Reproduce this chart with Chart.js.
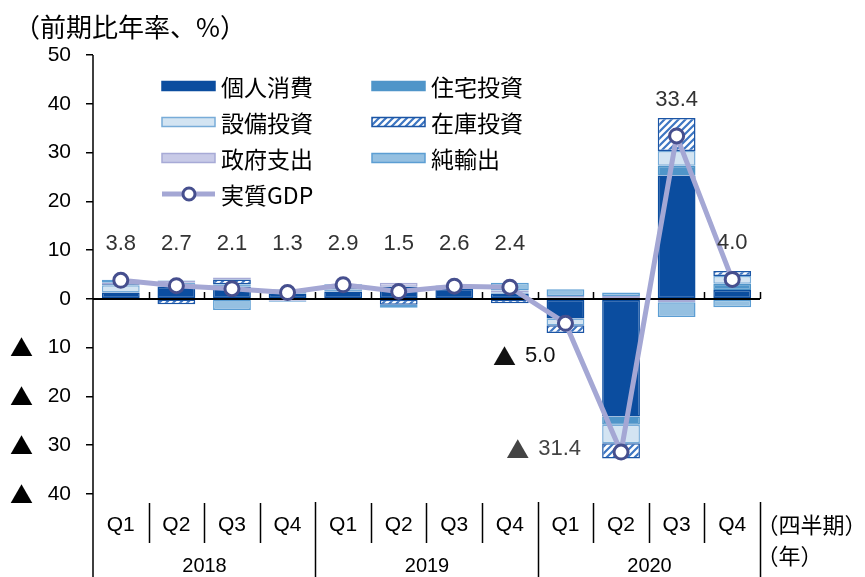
<!DOCTYPE html>
<html lang="ja">
<head>
<meta charset="UTF-8">
<title>実質GDP成長率の寄与度</title>
<style>
  html, body { margin: 0; padding: 0; background: #fff; }
  canvas { display: block; }
</style>
<script src="https://cdn.jsdelivr.net/npm/chart.js"></script>
</head>
<body>
<canvas id="gdpChart" width="865" height="577"></canvas>
<script>
// 四半期・年
const quarters = ['Q1', 'Q2', 'Q3', 'Q4', 'Q1', 'Q2', 'Q3', 'Q4', 'Q1', 'Q2', 'Q3', 'Q4'];
const years = ['2018', '2019', '2020'];

// 寄与度（前期比年率、%ポイント）
const consumption = [1.3, 2.5, 2.5, 1.1, 1.5, 2.5, 2.1, 1.1, -4.0, -24.1, 25.3, 1.8];
const housing     = [-0.1, -0.1, -0.1, -0.2, -0.1, -0.1, 0.2, 0.2, 0.3, -1.7, 2.0, 1.3];
const equipment   = [1.5, 0.8, 0.5, 0.6, 0.4, -0.1, -0.1, -0.1, -1.4, -3.8, 3.0, 1.6];
const inventory   = [0.2, -1.0, 1.0, 0.2, 0.3, -1.0, -0.1, -0.8, -1.6, -3.1, 6.8, 1.0];
const government  = [0.3, 0.4, 0.4, -0.2, 0.3, 0.8, 0.4, 0.4, 0.3, 0.6, -0.7, -0.2];
const netExports  = [0.6, 0.1, -2.2, -0.2, 0.5, -0.6, 0.1, 1.6, 1.4, 0.7, -3.0, -1.5];
const realGdp     = [3.8, 2.7, 2.1, 1.3, 2.9, 1.5, 2.6, 2.4, -5.0, -31.4, 33.4, 4.0];

const NUM = "'Liberation Sans', Arial, 'Noto Sans CJK JP', sans-serif";
const JP = "'Noto Sans CJK JP', sans-serif";

// 在庫投資のハッチング
function makeHatch() {
    const c = document.createElement('canvas');
    c.width = 7; c.height = 7;
    const g = c.getContext('2d');
    g.fillStyle = '#fff';
    g.fillRect(0, 0, 7, 7);
    g.strokeStyle = '#3d76c2';
    g.lineWidth = 2.2;
    g.beginPath();
    g.moveTo(-1, 8); g.lineTo(8, -1);
    g.moveTo(-1, 1); g.lineTo(1, -1);
    g.moveTo(6, 8); g.lineTo(8, 6);
    g.stroke();
    return g.createPattern(c, 'repeat');
}
const hatch = makeHatch();

function barSet(label, data, bg, border) {
    return {
        type: 'bar', label, data,
        backgroundColor: bg, borderColor: border, borderWidth: 1.5,
        borderSkipped: false, stack: 'comp', order: 1,
        barPercentage: 0.68, categoryPercentage: 1.0
    };
}

// マイナス記号（▲）付きの数値を右揃えで描く
function drawMinusText(ctx, num, right, y, color) {
    ctx.fillStyle = color;
    ctx.textAlign = 'right';
    ctx.font = '22px ' + NUM;
    ctx.fillText(num, right, y);
    const w = ctx.measureText(num).width;
    ctx.font = '23px ' + JP;
    ctx.fillText('▲', right - w - 9, y);
}

const boxLegendAndTable = {
    id: 'boxLegendAndTable',
    beforeDatasetDraw(chart, args) {
        if (args.meta.type !== 'line') return;
        const ctx = chart.ctx, area = chart.chartArea;
        const xs = chart.scales.x, ys = chart.scales.y;
        const y0 = ys.getPixelForValue(0);
        const half = (xs.getPixelForValue(1) - xs.getPixelForValue(0)) / 2;
        ctx.save();
        ctx.strokeStyle = '#000';
        ctx.lineWidth = 2;
        ctx.beginPath();
        ctx.moveTo(area.left, y0); ctx.lineTo(area.right, y0);
        ctx.stroke();
        ctx.lineWidth = 1.5;
        ctx.beginPath();
        for (let i = 1; i <= quarters.length; i++) {
            const bx = Math.round(xs.getPixelForValue(i) - half) + 0.5;
            ctx.moveTo(bx, y0); ctx.lineTo(bx, y0 - 7);
        }
        ctx.stroke();
        ctx.restore();
    },
    afterDatasetsDraw(chart) {
        const ctx = chart.ctx, area = chart.chartArea;
        const ys = chart.scales.y;
        // GDP labels
        const meta = chart.getDatasetMeta(chart.data.datasets.length - 1);
        ctx.save();
        ctx.textBaseline = 'middle';
        meta.data.forEach((pt, i) => {
            const v = realGdp[i];
            if (v >= 0) {
                ctx.fillStyle = '#333';
                ctx.font = '22px ' + NUM;
                ctx.textAlign = 'center';
                ctx.fillText(v.toFixed(1), pt.x, ys.getPixelForValue(Math.max(v, 3.8)) - 36);
            } else if (v > -10) {
                drawMinusText(ctx, Math.abs(v).toFixed(1), pt.x - 10, pt.y + 33, '#111');
            } else {
                drawMinusText(ctx, Math.abs(v).toFixed(1), pt.x - 40, pt.y - 3, '#444');
            }
        });
        ctx.restore();

        // legend
        ctx.save();
        ctx.font = '23px ' + JP;
        ctx.textBaseline = 'middle';
        ctx.textAlign = 'left';
        chart.data.datasets.forEach((ds, i) => {
            const col = i % 2, row = Math.floor(i / 2);
            const sx = area.left + 69 + col * 210;
            const sy = area.top + 31 + row * 36;
            if (ds.type === 'line') {
                ctx.strokeStyle = ds.borderColor;
                ctx.lineWidth = 5;
                ctx.beginPath();
                ctx.moveTo(sx, sy); ctx.lineTo(sx + 53, sy);
                ctx.stroke();
                ctx.fillStyle = '#fff';
                ctx.strokeStyle = ds.pointBorderColor;
                ctx.lineWidth = 3;
                ctx.beginPath();
                ctx.arc(sx + 27, sy, 6, 0, Math.PI * 2);
                ctx.fill(); ctx.stroke();
            } else {
                ctx.fillStyle = ds.backgroundColor;
                ctx.fillRect(sx, sy - 4.5, 53, 9);
                ctx.strokeStyle = ds.borderColor;
                ctx.lineWidth = 1.5;
                ctx.strokeRect(sx, sy - 4.5, 53, 9);
            }
            ctx.fillStyle = '#000';
            ctx.fillText(ds.label, sx + 59, sy + 1);
        });
        ctx.restore();
    },
    afterDraw(chart) {
        const ctx = chart.ctx, area = chart.chartArea;
        const xs = chart.scales.x, ys = chart.scales.y;
        const H = chart.height;
        const half = (xs.getPixelForValue(1) - xs.getPixelForValue(0)) / 2;
        const bnd = i => Math.round(xs.getPixelForValue(i) - half) + 0.5;
        ctx.save();
        ctx.strokeStyle = '#000';
        ctx.lineWidth = 1.5;
        ctx.beginPath();
        // y axis line down through the table
        ctx.moveTo(area.left, area.top); ctx.lineTo(area.left, H);
        for (let i = 1; i <= quarters.length; i++) {
            const bx = bnd(i);
            if (i % 4 === 0) {
                ctx.moveTo(bx, area.bottom + 8); ctx.lineTo(bx, H);
            } else {
                ctx.moveTo(bx, area.bottom + 9); ctx.lineTo(bx, area.bottom + 49);
            }
        }
        ctx.stroke();

        // ▲ for negative y ticks
        ctx.fillStyle = '#000';
        ctx.textBaseline = 'middle';
        ctx.textAlign = 'left';
        ctx.font = '23px ' + JP;
        ys.ticks.forEach(t => {
            if (t.value < 0) ctx.fillText('▲', 10, ys.getPixelForValue(t.value));
        });

        ctx.textAlign = 'center';
        ctx.font = '21px ' + NUM;
        quarters.forEach((q, i) => {
            ctx.fillText(q, xs.getPixelForValue(i), area.bottom + 31);
        });
        ctx.font = '20px ' + NUM;
        years.forEach((y, k) => {
            const cx = (bnd(k * 4) + bnd(k * 4 + 4)) / 2;
            ctx.fillText(y, cx, area.bottom + 72);
        });
        ctx.textAlign = 'left';
        ctx.font = '22px ' + JP;
        ctx.fillText('（四半期）', bnd(quarters.length) - 4, area.bottom + 31);
        ctx.fillText('（年）', bnd(quarters.length) - 4, area.bottom + 62);

        // unit title
        ctx.font = '26px ' + JP;
        ctx.fillText('（前期比年率、%）', 14, 27);
        ctx.restore();
    }
};

const ctx = document.getElementById('gdpChart').getContext('2d');
new Chart(ctx, {
    data: {
        labels: quarters,
        datasets: [
            barSet('個人消費', consumption, '#0b4d9f', '#0b4d9f'),
            barSet('住宅投資', housing, '#4f95c9', '#4f95c9'),
            barSet('設備投資', equipment, '#d3e4f2', '#78acd8'),
            barSet('在庫投資', inventory, hatch, '#1b55a5'),
            barSet('政府支出', government, '#c8cae7', '#a7aad6'),
            barSet('純輸出', netExports, '#95c0e1', '#5c9ed3'),
            {
                type: 'line', label: '実質GDP', data: realGdp, stack: 'gdp', order: 0,
                borderColor: '#a4a7d4', borderWidth: 5,
                pointRadius: 7, pointHoverRadius: 7,
                pointBackgroundColor: '#fff', pointBorderColor: '#464f8e', pointBorderWidth: 3,
                tension: 0
            }
        ]
    },
    options: {
        responsive: false,
        animation: false,
        layout: { padding: { left: 0, right: 105, top: 55, bottom: 83 } },
        plugins: {
            legend: { display: false },
            tooltip: { enabled: false }
        },
        scales: {
            x: {
                display: false,
                stacked: true,
                offset: true
            },
            y: {
                stacked: true,
                min: -40, max: 50,
                afterFit: s => { s.width = 93; },
                border: { display: false },
                grid: { drawOnChartArea: false, drawTicks: true, tickLength: 7, color: '#000', lineWidth: 1.5 },
                ticks: {
                    stepSize: 10, padding: 15, color: '#000',
                    font: { family: NUM, size: 21 },
                    callback: v => String(Math.abs(v))
                }
            }
        }
    },
    plugins: [boxLegendAndTable]
});
</script>
</body>
</html>
